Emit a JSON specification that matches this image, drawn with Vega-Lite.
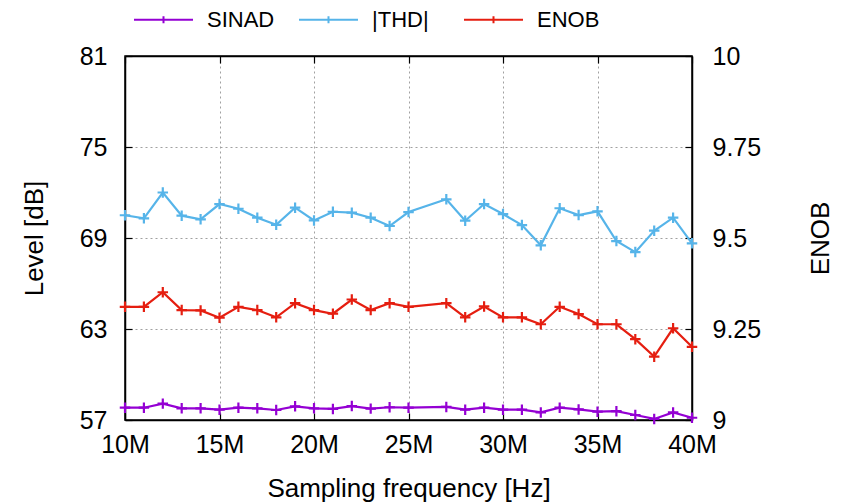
{
  "$schema": "https://vega.github.io/schema/vega-lite/v6.json",
  "autosize": {"type": "none"},
  "width": 567,
  "height": 364,
  "padding": {"left": 125, "top": 56, "right": 152, "bottom": 82},
  "background": "white",
  "config": {
    "font": "Liberation Sans",
    "view": {"stroke": "black", "strokeWidth": 1.5},
    "axis": {
      "labelFont": "Liberation Sans",
      "titleFont": "Liberation Sans",
      "labelFontSize": 25,
      "titleFontSize": 26,
      "labelColor": "black",
      "titleColor": "black",
      "titleFontWeight": "normal",
      "domainColor": "black",
      "domainWidth": 1.5,
      "tickColor": "black",
      "tickWidth": 1.2,
      "labelFlush": false,
      "gridColor": "#a0a0a0",
      "gridDash": [2, 3],
      "gridWidth": 1
    },
    "legend": {
      "labelFont": "Liberation Sans",
      "labelFontSize": 22,
      "labelColor": "black"
    }
  },
  "datasets": {
    "level": [
      {"f": 10, "series": "SINAD", "v": 57.81}, {"f": 11, "series": "SINAD", "v": 57.81},
      {"f": 12, "series": "SINAD", "v": 58.08}, {"f": 13, "series": "SINAD", "v": 57.77},
      {"f": 14, "series": "SINAD", "v": 57.77}, {"f": 15, "series": "SINAD", "v": 57.68},
      {"f": 16, "series": "SINAD", "v": 57.81}, {"f": 17, "series": "SINAD", "v": 57.77},
      {"f": 18, "series": "SINAD", "v": 57.66}, {"f": 19, "series": "SINAD", "v": 57.9},
      {"f": 20, "series": "SINAD", "v": 57.77}, {"f": 21, "series": "SINAD", "v": 57.73},
      {"f": 22, "series": "SINAD", "v": 57.92}, {"f": 23, "series": "SINAD", "v": 57.75},
      {"f": 24, "series": "SINAD", "v": 57.84}, {"f": 25, "series": "SINAD", "v": 57.81},
      {"f": 27, "series": "SINAD", "v": 57.86}, {"f": 28, "series": "SINAD", "v": 57.68},
      {"f": 29, "series": "SINAD", "v": 57.81}, {"f": 30, "series": "SINAD", "v": 57.68},
      {"f": 31, "series": "SINAD", "v": 57.68}, {"f": 32, "series": "SINAD", "v": 57.5},
      {"f": 33, "series": "SINAD", "v": 57.81}, {"f": 34, "series": "SINAD", "v": 57.7},
      {"f": 35, "series": "SINAD", "v": 57.55}, {"f": 36, "series": "SINAD", "v": 57.58},
      {"f": 37, "series": "SINAD", "v": 57.33}, {"f": 38, "series": "SINAD", "v": 57.07},
      {"f": 39, "series": "SINAD", "v": 57.5}, {"f": 40, "series": "SINAD", "v": 57.15},
      {"f": 10, "series": "|THD|", "v": 70.5}, {"f": 11, "series": "|THD|", "v": 70.3},
      {"f": 12, "series": "|THD|", "v": 72.0}, {"f": 13, "series": "|THD|", "v": 70.47},
      {"f": 14, "series": "|THD|", "v": 70.23}, {"f": 15, "series": "|THD|", "v": 71.24},
      {"f": 16, "series": "|THD|", "v": 70.93}, {"f": 17, "series": "|THD|", "v": 70.34},
      {"f": 18, "series": "|THD|", "v": 69.87}, {"f": 19, "series": "|THD|", "v": 71.0},
      {"f": 20, "series": "|THD|", "v": 70.16}, {"f": 21, "series": "|THD|", "v": 70.73},
      {"f": 22, "series": "|THD|", "v": 70.67}, {"f": 23, "series": "|THD|", "v": 70.34},
      {"f": 24, "series": "|THD|", "v": 69.79}, {"f": 25, "series": "|THD|", "v": 70.71},
      {"f": 27, "series": "|THD|", "v": 71.55}, {"f": 28, "series": "|THD|", "v": 70.14},
      {"f": 29, "series": "|THD|", "v": 71.24}, {"f": 30, "series": "|THD|", "v": 70.58},
      {"f": 31, "series": "|THD|", "v": 69.85}, {"f": 32, "series": "|THD|", "v": 68.52},
      {"f": 33, "series": "|THD|", "v": 70.96}, {"f": 34, "series": "|THD|", "v": 70.51},
      {"f": 35, "series": "|THD|", "v": 70.76}, {"f": 36, "series": "|THD|", "v": 68.8},
      {"f": 37, "series": "|THD|", "v": 68.07}, {"f": 38, "series": "|THD|", "v": 69.48},
      {"f": 39, "series": "|THD|", "v": 70.34}, {"f": 40, "series": "|THD|", "v": 68.65}
    ],
    "enob": [
      {"f": 10, "series": "ENOB", "v": 9.311}, {"f": 11, "series": "ENOB", "v": 9.311},
      {"f": 12, "series": "ENOB", "v": 9.351}, {"f": 13, "series": "ENOB", "v": 9.302},
      {"f": 14, "series": "ENOB", "v": 9.301}, {"f": 15, "series": "ENOB", "v": 9.281},
      {"f": 16, "series": "ENOB", "v": 9.311}, {"f": 17, "series": "ENOB", "v": 9.302},
      {"f": 18, "series": "ENOB", "v": 9.282}, {"f": 19, "series": "ENOB", "v": 9.321},
      {"f": 20, "series": "ENOB", "v": 9.302}, {"f": 21, "series": "ENOB", "v": 9.292},
      {"f": 22, "series": "ENOB", "v": 9.331}, {"f": 23, "series": "ENOB", "v": 9.302},
      {"f": 24, "series": "ENOB", "v": 9.321}, {"f": 25, "series": "ENOB", "v": 9.311},
      {"f": 27, "series": "ENOB", "v": 9.321}, {"f": 28, "series": "ENOB", "v": 9.282},
      {"f": 29, "series": "ENOB", "v": 9.312}, {"f": 30, "series": "ENOB", "v": 9.282},
      {"f": 31, "series": "ENOB", "v": 9.282}, {"f": 32, "series": "ENOB", "v": 9.263},
      {"f": 33, "series": "ENOB", "v": 9.311}, {"f": 34, "series": "ENOB", "v": 9.291},
      {"f": 35, "series": "ENOB", "v": 9.263}, {"f": 36, "series": "ENOB", "v": 9.263},
      {"f": 37, "series": "ENOB", "v": 9.222}, {"f": 38, "series": "ENOB", "v": 9.174},
      {"f": 39, "series": "ENOB", "v": 9.252}, {"f": 40, "series": "ENOB", "v": 9.201}
    ]
  },
  "encoding": {
    "color": {
      "field": "series",
      "type": "nominal",
      "scale": {
        "domain": ["SINAD", "|THD|", "ENOB"],
        "range": ["#9400D3", "#56B4E9", "#E51E10"]
      },
      "legend": {
        "title": null,
        "orient": "none",
        "direction": "horizontal",
        "legendX": 8,
        "legendY": -67,
        "columns": 3,
        "gridAlign": "all",
        "columnPadding": 20,
        "symbolType": "M-1,0H1M0,-0.12V0.12",
        "symbolSize": 3481,
        "symbolStrokeWidth": 2,
        "symbolFillColor": "transparent",
        "labelOffset": 13
      }
    }
  },
  "layer": [
    {
      "data": {"name": "level"},
      "encoding": {
        "x": {
          "field": "f",
          "type": "quantitative",
          "scale": {"domain": [10, 40], "nice": false, "zero": false},
          "axis": {
            "title": "Sampling frequency [Hz]",
            "values": [10, 15, 20, 25, 30, 35, 40],
            "labelExpr": "datum.value + 'M'",
            "tickSize": -7,
            "labelPadding": 19,
            "titlePadding": 18,
            "grid": true
          }
        },
        "y": {
          "field": "v",
          "type": "quantitative",
          "scale": {"domain": [57, 81], "nice": false, "zero": false},
          "axis": {
            "title": "Level [dB]",
            "values": [57, 63, 69, 75, 81],
            "tickSize": -7,
            "labelPadding": 25,
            "titlePadding": 32,
            "grid": true
          }
        }
      },
      "layer": [
        {"mark": {"type": "line", "strokeWidth": 2.2}},
        {"mark": {"type": "point", "shape": "M-1,0H1M0,-1V1", "filled": false, "size": 110, "strokeWidth": 2.2, "opacity": 1}}
      ]
    },
    {
      "data": {"name": "enob"},
      "encoding": {
        "x": {
          "field": "f",
          "type": "quantitative",
          "scale": {"domain": [10, 40], "nice": false, "zero": false},
          "axis": {
            "orient": "top",
            "title": null,
            "values": [10, 15, 20, 25, 30, 35, 40],
            "labels": false,
            "tickSize": -7,
            "grid": false
          }
        },
        "y": {
          "field": "v",
          "type": "quantitative",
          "scale": {"domain": [9, 10], "nice": false, "zero": false},
          "axis": {
            "title": "ENOB",
            "orient": "right",
            "values": [9, 9.25, 9.5, 9.75, 10],
            "format": ".4~g",
            "tickSize": -7,
            "labelPadding": 27,
            "titleAngle": 270,
            "titlePadding": 73,
            "grid": false
          }
        }
      },
      "layer": [
        {"mark": {"type": "line", "strokeWidth": 2.2}},
        {"mark": {"type": "point", "shape": "M-1,0H1M0,-1V1", "filled": false, "size": 110, "strokeWidth": 2.2, "opacity": 1}}
      ]
    }
  ],
  "resolve": {"scale": {"y": "independent"}, "axis": {"x": "independent", "y": "independent"}}
}
